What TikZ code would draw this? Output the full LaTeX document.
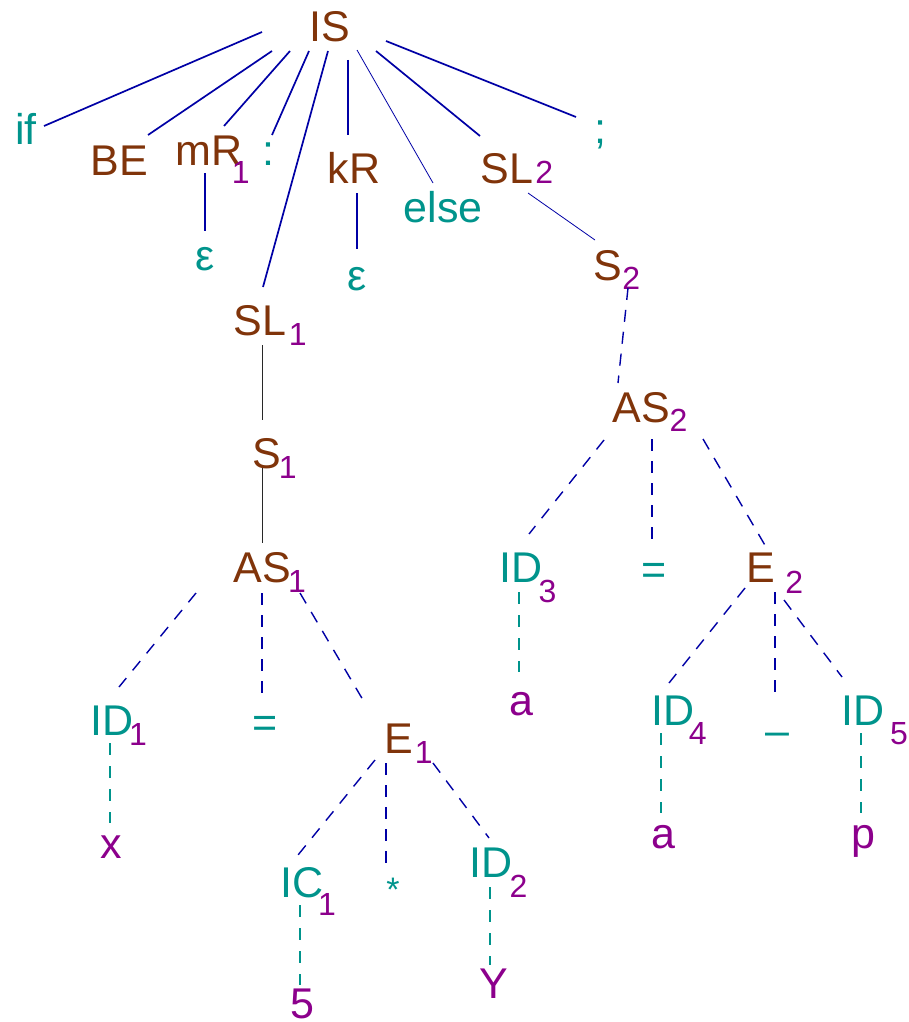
\documentclass[tikz,border=0pt]{standalone}
\usepackage{fontspec}
\setmainfont{Liberation Sans}
\definecolor{nt}{RGB}{128,52,10}
\definecolor{tm}{RGB}{0,148,140}
\definecolor{sb}{RGB}{140,0,140}
\definecolor{ln}{RGB}{0,0,165}
\definecolor{gl}{RGB}{40,40,40}
\newcommand\sbs[3]{\rlap{\hspace*{#1pt}\raisebox{-#2pt}{\fontsize{32}{32}\selectfont\color{sb}#3}}}
\tikzset{
  lbl/.style={anchor=base, inner sep=0pt, font=\fontsize{43}{43}\selectfont},
  ntl/.style={lbl, text=nt},
  tml/.style={lbl, text=tm},
  sbl/.style={lbl, text=sb},
  edge/.style={draw=ln, line width=1.7pt},
  thinedge/.style={draw=ln, line width=0.8pt},
  grayedge/.style={draw=gl, line width=0.8pt},
  dedge/.style={draw=ln, line width=1.4pt, dash pattern=on 12pt off 10pt},
  tedge/.style={draw=tm, line width=1.2pt, dash pattern=on 12pt off 11pt},
}
\begin{document}
\begin{tikzpicture}[x=1pt,y=-1pt]
\useasboundingbox (0,0) rectangle (909,1022);
% nodes
\node[ntl] (nIS) at (330,42) {IS};
\node[tml] (nif) at (26,145) {if};
\node[ntl] (nBE) at (119,175) {BE};
\node[ntl] (nmR) at (209,165) {mR\sbs{-10.5}{18}{1}};
\node[tml] (ncolon) at (268,165) {:};
\node[ntl] (nkR) at (354,183) {kR};
\node[tml] (nelse) at (443,222) {else};
\node[ntl] (nSL2) at (507,183) {SL\sbs{2}{0}{2}};
\node[tml] (nsemi) at (600,143) {;};
\node[tml] (neps1) at (205,270) {ε};
\node[tml] (neps2) at (357,290) {ε};
\node[ntl] (nS2) at (608,280) {S\sbs{0}{9}{2}};
\node[ntl] (nSL1) at (260,335) {SL\sbs{2.5}{10}{1}};
\node[ntl] (nS1) at (267,468) {S\sbs{-2.5}{10}{1}};
\node[ntl] (nAS1) at (262,582) {AS\sbs{-2.5}{10}{1}};
\node[ntl] (nAS2) at (641,422) {AS\sbs{0}{9}{2}};
\node[tml] (nID3) at (521,582) {ID\sbs{-4}{20}{3}};
\node[tml] (neqA) at (654,584) {=};
\node[ntl] (nE2) at (761,582) {E\sbs{10}{11}{2}};
\node[tml] (nID1) at (112,735) {ID\sbs{-4.5}{10}{1}};
\node[tml] (neqB) at (265,737) {=};
\node[ntl] (nE1) at (399,753) {E\sbs{1.5}{10}{1}};
\node[sbl] (na1) at (521,715) {a};
\node[tml] (nID4) at (673,725) {ID\sbs{-5.6}{19}{4}};
\node[tml] (ndash) at (777.5,745) {–};
\node[tml] (nID5) at (863,725) {ID\sbs{5.7}{19}{5}};
\node[sbl] (nx) at (111,858) {x};
\node[tml] (nIC1) at (302,897) {IC\sbs{-5.5}{18}{1}};
\node[tml, font=\fontsize{34}{34}\selectfont] (nstar) at (393,901) {*};
\node[tml] (nID2) at (491,877) {ID\sbs{-3}{20}{2}};
\node[sbl] (na2) at (663,848) {a};
\node[sbl] (np) at (863,848) {p};
\node[sbl] (nfive) at (302,1018) {5};
\node[sbl] (nY) at (494,998) {Y};
% edges from IS
\draw[edge] ([shift={(-68,-10)}]nIS.base) -- ([shift={(18,-19)}]nif.base);
\draw[edge] ([shift={(-58,9)}]nIS.base) -- ([shift={(29,-40)}]nBE.base);
\draw[edge] ([shift={(-40,9)}]nIS.base) -- ([shift={(15,-39)}]nmR.base);
\draw[edge] ([shift={(-21,9)}]nIS.base) -- ([shift={(4,-30)}]ncolon.base);
\draw[edge] ([shift={(-2,9)}]nIS.base) -- ([shift={(3,-48)}]nSL1.base);
\draw[edge] ([shift={(18,18)}]nIS.base) -- ([shift={(-6,-48)}]nkR.base);
\draw[thinedge] ([shift={(27,8)}]nIS.base) -- ([shift={(-10,-39)}]nelse.base);
\draw[edge] ([shift={(46,9)}]nIS.base) -- ([shift={(-27,-47)}]nSL2.base);
\draw[edge] ([shift={(56,-1)}]nIS.base) -- ([shift={(-24,-26)}]nsemi.base);
% epsilon
\draw[edge] ([shift={(-4,8)}]nmR.base) -- ([shift={(0,-39)}]neps1.base);
\draw[edge] ([shift={(3,10)}]nkR.base) -- ([shift={(0,-41)}]neps2.base);
% right subtree
\draw[thinedge] ([shift={(21,10)}]nSL2.base) -- ([shift={(-13,-40)}]nS2.base);
\draw[dedge] ([shift={(20,8)}]nS2.base) -- ([shift={(-23,-39)}]nAS2.base);
\draw[dedge] ([shift={(-37,18)}]nAS2.base) -- ([shift={(8,-48)}]nID3.base);
\draw[dedge] ([shift={(11,17)}]nAS2.base) -- ([shift={(-2,-41)}]neqA.base);
\draw[dedge] ([shift={(62,17)}]nAS2.base) -- ([shift={(5,-35)}]nE2.base);
\draw[tedge] ([shift={(-2,10)}]nID3.base) -- ([shift={(-2,-43)}]na1.base);
\draw[dedge] ([shift={(-16,6)}]nE2.base) -- ([shift={(-4,-42)}]nID4.base);
\draw[dedge] ([shift={(14,10)}]nE2.base) -- ([shift={(-2.5,-50)}]ndash.base);
\draw[dedge] ([shift={(23,18)}]nE2.base) -- ([shift={(-21,-48)}]nID5.base);
\draw[tedge] ([shift={(-12,8)}]nID4.base) -- ([shift={(-2,-35)}]na2.base);
\draw[tedge] ([shift={(-2,8)}]nID5.base) -- ([shift={(-2,-35)}]np.base);
% left subtree
\draw[grayedge] ([shift={(2,10)}]nSL1.base) -- ([shift={(-5,-48)}]nS1.base);
\draw[grayedge] ([shift={(-5,0)}]nS1.base) -- ([shift={(0,-39)}]nAS1.base);
\draw[dedge] ([shift={(-66,11)}]nAS1.base) -- ([shift={(7,-48)}]nID1.base);
\draw[dedge] ([shift={(0,11)}]nAS1.base) -- ([shift={(-3,-42)}]neqB.base);
\draw[dedge] ([shift={(38,11)}]nAS1.base) -- ([shift={(-36,-53)}]nE1.base);
\draw[tedge] ([shift={(-2,8)}]nID1.base) -- ([shift={(-1,-35)}]nx.base);
\draw[dedge] ([shift={(-24,7)}]nE1.base) -- ([shift={(-4,-42)}]nIC1.base);
\draw[dedge] ([shift={(-13,10)}]nE1.base) -- ([shift={(-7,-34)}]nstar.base);
\draw[dedge] ([shift={(34,10)}]nE1.base) -- ([shift={(-2,-39)}]nID2.base);
\draw[tedge] ([shift={(-2,8)}]nIC1.base) -- ([shift={(-2,-33)}]nfive.base);
\draw[tedge] ([shift={(-1,10)}]nID2.base) -- ([shift={(-4,-33)}]nY.base);
\end{tikzpicture}
\end{document}
